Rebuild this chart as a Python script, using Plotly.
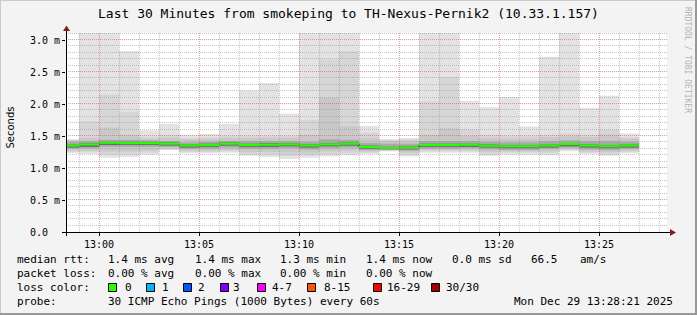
import plotly.graph_objects as go
from datetime import datetime, timedelta

# ---------------- data ----------------
minutes = ["12:58", "12:59", "13:00", "13:01", "13:02", "13:03", "13:04", "13:05",
           "13:06", "13:07", "13:08", "13:09", "13:10", "13:11", "13:12", "13:13",
           "13:14", "13:15", "13:16", "13:17", "13:18", "13:19", "13:20", "13:21",
           "13:22", "13:23", "13:24", "13:25", "13:26"]

median_ms = [1.353, 1.369, 1.395, 1.390, 1.390, 1.380, 1.353, 1.360, 1.380, 1.360,
             1.365, 1.370, 1.353, 1.370, 1.380, 1.330, 1.310, 1.320, 1.360, 1.360,
             1.364, 1.350, 1.340, 1.340, 1.353, 1.375, 1.353, 1.340, 1.353]
ping_max = [1.45, 3.40, 3.40, 2.83, 1.59, 1.69, 1.52, 1.53, 1.69, 2.21, 2.33, 1.85, 3.40, 3.40,
            3.40, 1.66, 1.45, 1.47, 3.40, 3.40, 2.05, 1.95, 2.11, 1.65, 2.74, 3.40, 1.94, 2.13, 1.54]
ping_hi2 = [1.44, 1.73, 2.15, 1.88, 1.49, 1.52, 1.47, 1.48, 1.50, 1.50, 1.50, 1.50, 1.75, 2.70,
            2.83, 1.55, 1.44, 1.45, 2.04, 2.42, 1.61, 1.52, 1.50, 1.50, 1.52, 1.54, 1.52, 1.60, 1.48]
ping_hi3 = [1.43, 1.47, 1.63, 1.52, 1.46, 1.47, 1.45, 1.45, 1.47, 1.47, 1.47, 1.47, 1.52, 2.10,
            1.65, 1.47, 1.42, 1.43, 1.52, 1.62, 1.50, 1.47, 1.46, 1.46, 1.48, 1.50, 1.48, 1.52, 1.46]
ping_hi4 = [1.41, 1.42, 1.44, 1.44, 1.43, 1.42, 1.40, 1.41, 1.42, 1.42, 1.42, 1.42, 1.41, 1.45,
            1.44, 1.39, 1.38, 1.38, 1.42, 1.42, 1.42, 1.41, 1.40, 1.40, 1.42, 1.43, 1.42, 1.42, 1.41]
core_hi = [1.37, 1.39, 1.41, 1.41, 1.41, 1.40, 1.37, 1.38, 1.40, 1.38, 1.39, 1.39, 1.37, 1.39,
           1.40, 1.35, 1.33, 1.34, 1.38, 1.38, 1.38, 1.37, 1.36, 1.36, 1.37, 1.39, 1.37, 1.36, 1.37]
core_lo = [1.32, 1.33, 1.36, 1.36, 1.36, 1.35, 1.32, 1.33, 1.35, 1.33, 1.33, 1.34, 1.32, 1.34,
           1.35, 1.30, 1.29, 1.29, 1.33, 1.33, 1.33, 1.32, 1.31, 1.31, 1.32, 1.34, 1.32, 1.31, 1.32]
ping_lo4 = [1.30, 1.31, 1.33, 1.33, 1.33, 1.33, 1.30, 1.30, 1.32, 1.30, 1.30, 1.31, 1.29, 1.31,
            1.32, 1.28, 1.29, 1.27, 1.30, 1.30, 1.31, 1.29, 1.28, 1.28, 1.30, 1.32, 1.29, 1.28, 1.30]
ping_lo3 = [1.27, 1.27, 1.26, 1.26, 1.27, 1.31, 1.27, 1.27, 1.28, 1.25, 1.25, 1.24, 1.24, 1.26,
            1.27, 1.26, 1.28, 1.24, 1.28, 1.28, 1.28, 1.25, 1.26, 1.26, 1.26, 1.30, 1.26, 1.25, 1.27]
ping_lo2 = [1.25, 1.25, 1.21, 1.22, 1.24, 1.29, 1.25, 1.25, 1.26, 1.22, 1.21, 1.19, 1.20, 1.22,
            1.23, 1.24, 1.27, 1.21, 1.26, 1.26, 1.26, 1.22, 1.24, 1.24, 1.23, 1.28, 1.24, 1.22, 1.25]
ping_min = [1.23, 1.22, 1.16, 1.17, 1.21, 1.28, 1.23, 1.23, 1.24, 1.19, 1.17, 1.14, 1.16, 1.18,
            1.20, 1.22, 1.26, 1.18, 1.24, 1.24, 1.24, 1.19, 1.21, 1.21, 1.20, 1.26, 1.22, 1.19, 1.23]

y_tick_vals = [0.0, 0.5, 1.0, 1.5, 2.0, 2.5, 3.0]
y_tick_text = ["0.0\u00a0\u00a0", "0.5 m", "1.0 m", "1.5 m", "2.0 m", "2.5 m", "3.0 m"]
x_tick_text = ["13:00", "13:05", "13:10", "13:15", "13:20", "13:25"]

loss_labels = ["0", "1", "2", "3", "4-7", "8-15", "16-29", "30/30"]
loss_colors = ["#26ff00", "#00b8ff", "#0059ff", "#7e00ff", "#ff00ff", "#ff5500", "#ff0000", "#a10000"]

title_text = "Last 30 Minutes from smokeping to TH-Nexus-Pernik2 (10.33.1.157)"

# ---------------- geometry ----------------
FW, FH = 697, 315
L, R, T, B = 66, 30, 33, 83
W = FW - L - R
H = FH - T - B
PX_PER_MS = 64.0
t_start = datetime(2025, 12, 29, 12, 58, 21)
t_end = t_start + timedelta(seconds=W * 3)  # 20 px per minute


def pxx(x):
    return (x - L) / W


def pxy(y):
    return (FH - B - y) / H


def tpx(t):
    return L + (t - t_start).total_seconds() / 3.0


day = "2025-12-29 "
starts = [datetime.strptime(day + m, "%Y-%m-%d %H:%M") for m in minutes]
centers = [s + timedelta(seconds=30) for s in starts]
end_last = starts[-1] + timedelta(minutes=1)

fig = go.Figure()

layers = [
    (ping_min, ping_max, "#e3e3e3"),
    (ping_lo2, ping_hi2, "#d6d6d6"),
    (ping_lo3, ping_hi3, "#c8c8c8"),
    (ping_lo4, ping_hi4, "#a9a9a9"),
    (core_lo, core_hi, "#6a6a6a"),
]
for lo, hi, col in layers:
    fig.add_trace(go.Bar(
        x=centers, y=[h - l for l, h in zip(lo, hi)], base=lo,
        width=60000, marker=dict(color=col, line=dict(width=0)),
        hoverinfo="skip", showlegend=False))

# black median step line
fig.add_trace(go.Scatter(
    x=starts + [end_last], y=median_ms + [median_ms[-1]], mode="lines",
    line=dict(shape="hv", color="#202020", width=1),
    hoverinfo="skip", showlegend=False))

# green (0 loss) median segments
gx, gy = [], []
for s, m in zip(starts, median_ms):
    gx += [s, s + timedelta(minutes=1), None]
    gy += [m, m, None]
fig.add_trace(go.Scatter(
    x=gx, y=gy, mode="lines", line=dict(color="#26ff00", width=2.2),
    hoverinfo="skip", showlegend=False))

shapes = []
# grid (drawn above the smoke, like rrdtool)
t = datetime(2025, 12, 29, 12, 59)
while t < t_end:
    xp = round(tpx(t)) + 0.5
    major = (t.minute % 5 == 0)
    shapes.append(dict(type="line", xref="paper", yref="paper",
                       x0=pxx(xp), x1=pxx(xp), y0=0, y1=1, layer="above",
                       line=dict(color="rgba(222,80,80,0.55)" if major else "rgba(150,150,150,0.55)",
                                 width=1, dash="1px,1px")))
    t += timedelta(minutes=1)
for k in range(1, 32):
    v = k / 10.0
    yp = round(FH - B - v * PX_PER_MS) - 0.5
    if yp < T:
        continue
    major = (k % 5 == 0)
    shapes.append(dict(type="line", xref="paper", yref="paper",
                       x0=0, x1=1, y0=pxy(yp), y1=pxy(yp), layer="above",
                       line=dict(color="rgba(222,80,80,0.55)" if major else "rgba(150,150,150,0.55)",
                                 width=1, dash="1px,1px")))

# axes lines
shapes.append(dict(type="line", xref="paper", yref="paper", x0=pxx(62), x1=pxx(671),
                   y0=pxy(232.5), y1=pxy(232.5), line=dict(color="black", width=1), layer="above"))
shapes.append(dict(type="line", xref="paper", yref="paper", x0=pxx(66.5), x1=pxx(66.5),
                   y0=pxy(236), y1=pxy(29), line=dict(color="black", width=1), layer="above"))
# arrows
arrow_col = "#8b1a1a"
shapes.append(dict(type="path", xref="paper", yref="paper",
                   path=f"M {pxx(66.5)} {pxy(25.5)} L {pxx(63)} {pxy(31)} L {pxx(70)} {pxy(31)} Z",
                   fillcolor=arrow_col, line=dict(width=0), layer="above"))
shapes.append(dict(type="path", xref="paper", yref="paper",
                   path=f"M {pxx(676)} {pxy(232.5)} L {pxx(670)} {pxy(229)} L {pxx(670)} {pxy(236)} Z",
                   fillcolor=arrow_col, line=dict(width=0), layer="above"))
# frame
shapes.append(dict(type="line", xref="paper", yref="paper", x0=pxx(0), x1=pxx(FW),
                   y0=pxy(0.5), y1=pxy(0.5), line=dict(color="#cbcbcb", width=1)))
shapes.append(dict(type="line", xref="paper", yref="paper", x0=pxx(0.5), x1=pxx(0.5),
                   y0=pxy(0), y1=pxy(FH), line=dict(color="#cbcbcb", width=1)))
shapes.append(dict(type="line", xref="paper", yref="paper", x0=pxx(0), x1=pxx(FW),
                   y0=pxy(FH - 1), y1=pxy(FH - 1), line=dict(color="#999999", width=2)))
shapes.append(dict(type="line", xref="paper", yref="paper", x0=pxx(FW - 1), x1=pxx(FW - 1),
                   y0=pxy(0), y1=pxy(FH), line=dict(color="#999999", width=2)))

annotations = []
MONO = "DejaVu Sans Mono"


def text(x, y, s, size=11, anchor="left", color="black", angle=0, family=MONO):
    annotations.append(dict(xref="paper", yref="paper", x=pxx(x), y=pxy(y), text=s,
                            showarrow=False, xanchor=anchor, yanchor="middle",
                            textangle=angle, borderpad=0,
                            font=dict(family=family, size=size, color=color)))


text(348.5, 14, title_text, size=13, anchor="center")
text(10.5, 128, "Seconds", size=10, anchor="center", angle=-90, family="DejaVu Sans")
text(688, 60, "RRDTOOL / TOBI OETIKER", size=8, anchor="center", angle=90, color="#b4b4b4")

rows = [
    (259, [(16, "median rtt:"), (107, "1.4 ms avg"), (194, "1.4 ms max"), (279, "1.3 ms min"),
           (365, "1.4 ms now"), (451, "0.0 ms sd"), (530, "66.5"), (579, "am/s")]),
    (273, [(16, "packet loss:"), (107, "0.00 % avg"), (194, "0.00 % max"), (279, "0.00 % min"),
           (365, "0.00 % now")]),
    (287, [(16, "loss color:")]),
    (301, [(16, "probe:"), (107, "30 ICMP Echo Pings (1000 Bytes) every 60s"),
           (513, "Mon Dec 29 13:28:21 2025")]),
]
for y, items in rows:
    for x, s in items:
        text(x - 0.5, y, s)

box_x = [108, 146, 183, 220, 257, 307, 373, 431]
lab_x = [124, 161.5, 197, 233, 271.5, 323, 386.5, 445]
for bx, lx, lab, col in zip(box_x, lab_x, loss_labels, loss_colors):
    shapes.append(dict(type="rect", xref="paper", yref="paper",
                       x0=pxx(bx + 0.5), x1=pxx(bx + 8.5), y0=pxy(283.5), y1=pxy(291.5),
                       fillcolor=col, line=dict(color="black", width=1)))
    text(lx - 0.5, 287, lab)

fig.update_layout(
    width=FW, height=FH,
    margin=dict(l=L, r=R, t=T, b=B),
    paper_bgcolor="#f3f3f3", plot_bgcolor="white",
    barmode="overlay", showlegend=False,
    shapes=shapes, annotations=annotations,
    xaxis=dict(type="date", range=[t_start, t_end], showgrid=False, zeroline=False,
               showline=False, tickmode="array",
               tickvals=[datetime.strptime(day + s, "%Y-%m-%d %H:%M") for s in x_tick_text],
               ticktext=x_tick_text, ticks="outside", ticklen=3, tickcolor="black",
               tickfont=dict(family=MONO, size=10, color="black")),
    yaxis=dict(range=[0, H / PX_PER_MS], showgrid=False, zeroline=False, showline=False,
               tickmode="array", tickvals=y_tick_vals, ticktext=y_tick_text,
               ticks="outside", ticklen=3, tickcolor="black",
               tickfont=dict(family=MONO, size=10, color="black")),
)

fig.write_html("out.html")
